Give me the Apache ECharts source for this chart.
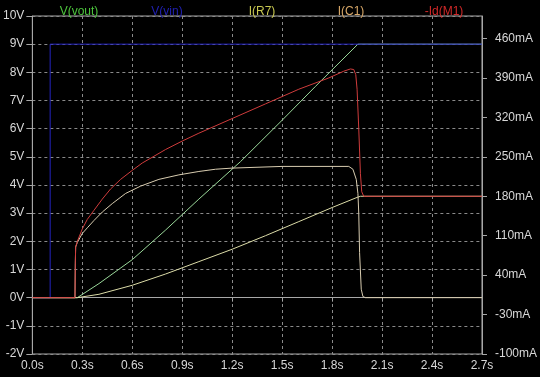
<!DOCTYPE html>
<html>
<head>
<meta charset="utf-8">
<script src="https://cdn.jsdelivr.net/npm/echarts@6/dist/echarts.min.js"></script>
<style>
  html, body { margin: 0; padding: 0; background: #000; }
  #chart { width: 540px; height: 377px; }
</style>
</head>
<body>
<div id="chart"></div>
<script>
// time in seconds, voltages in V, currents in mA
const vout = [
  [0, 0], [0.27, 0], [0.4, 0.5], [0.6, 1.35], [0.8, 2.4], [1.0, 3.5],
  [1.25, 4.83], [1.5, 6.3], [1.7, 7.5], [1.955, 9], [2.7, 9]
];
const vin = [[0, 0], [0.107, 0], [0.107, 9], [2.7, 9]];
const iR7 = [
  [0, 0], [0.27, 0], [0.4, 6], [0.6, 22], [0.8, 42], [1.0, 64], [1.2, 86],
  [1.4, 110], [1.6, 135], [1.8, 160], [1.95, 178], [1.97, 180], [2.7, 180]
];
const iC1 = [
  [0, 0], [0.256, 0], [0.258, 60], [0.26, 90], [0.27, 98], [0.3, 114],
  [0.33, 124], [0.37, 137], [0.42, 152], [0.48, 167], [0.56, 185],
  [0.65, 198], [0.76, 210], [0.88, 218], [1.0, 224], [1.1, 228], [1.2, 230],
  [1.5, 233], [1.9, 233], [1.925, 228], [1.945, 210], [1.955, 185],
  [1.96, 150], [1.965, 80], [1.975, 15], [1.985, 2], [2.0, 0], [2.7, 0]
];
const idM1 = [
  [0, 0], [0.256, 0], [0.258, 60], [0.26, 90], [0.27, 100], [0.3, 122],
  [0.33, 139], [0.37, 155], [0.42, 175], [0.47, 193], [0.53, 210],
  [0.6, 226], [0.66, 239], [0.73, 251], [0.8, 263], [0.9, 278], [1.0, 292],
  [1.2, 318], [1.4, 344], [1.6, 370], [1.78, 390], [1.87, 402],
  [1.91, 406], [1.93, 405], [1.942, 396], [1.95, 370], [1.96, 300],
  [1.97, 220], [1.978, 188], [1.99, 180], [2.7, 180]
];
const mATicks = [-100, -30, 40, 110, 180, 250, 320, 390, 460];

const traces = [
  { name: "V(vout)", data: vout, axis: 0, color: "#9ad89a", title: "#4cc43c", x: 74 },
  { name: "V(vin)", data: vin, axis: 0, color: "#2424c0", title: "#2020b0", x: 162 },
  { name: "I(R7)", data: iR7, axis: 1, color: "#dcdca8", title: "#c8c850", x: 257 },
  { name: "I(C1)", data: iC1, axis: 1, color: "#d8ccb0", title: "#d8a868", x: 346 },
  { name: "-Id(M1)", data: idM1, axis: 1, color: "#d03c3c", title: "#d02828", x: 439 }
];

const labelStyle = { color: "#d8d8d8", fontFamily: "Liberation Sans", fontSize: 12 };
const chart = echarts.init(document.getElementById("chart"));

chart.setOption({
  backgroundColor: "#000",
  animation: false,
  title: traces.map(t => ({
    text: t.name,
    left: t.x,
    top: 1,
    textAlign: "center",
    textStyle: { color: t.title, fontFamily: "Liberation Sans", fontSize: 12, fontWeight: "normal" }
  })),
  grid: {
    left: 27, right: 53, top: 16, bottom: 23,
    show: true, borderColor: "#a8a8a8", borderWidth: 1
  },
  xAxis: {
    type: "value", min: 0, max: 2.7, interval: 0.3,
    axisLine: { lineStyle: { color: "#a8a8a8" } },
    axisTick: { length: 4, lineStyle: { color: "#a8a8a8" } },
    axisLabel: Object.assign({ margin: 6, formatter: v => v.toFixed(1) + "s" }, labelStyle),
    splitLine: { show: true, lineStyle: { color: "#8a8a8a", type: [3, 3] } }
  },
  yAxis: [
    {
      type: "value", min: -2, max: 10, interval: 1,
      axisLine: { show: true, lineStyle: { color: "#a8a8a8" } },
      axisTick: { show: true, length: 6, lineStyle: { color: "#a8a8a8" } },
      axisLabel: Object.assign({ margin: 8, formatter: v => v + "V" }, labelStyle),
      splitLine: { show: true, lineStyle: { color: "#8a8a8a", type: [3, 3] } }
    },
    {
      type: "value", min: -100, max: 500, position: "right",
      axisLine: { show: true, lineStyle: { color: "#a8a8a8" } },
      axisTick: { show: true, length: 5, customValues: mATicks, lineStyle: { color: "#a8a8a8" } },
      axisLabel: Object.assign({ margin: 13, customValues: mATicks, formatter: v => v + "mA" }, labelStyle),
      splitLine: { show: false }
    }
  ],
  series: traces.map(t => ({
    name: t.name,
    type: "line",
    yAxisIndex: t.axis,
    data: t.data,
    showSymbol: false,
    lineStyle: { color: t.color, width: 1 },
    emphasis: { disabled: true }
  }))
});
</script>
</body>
</html>
